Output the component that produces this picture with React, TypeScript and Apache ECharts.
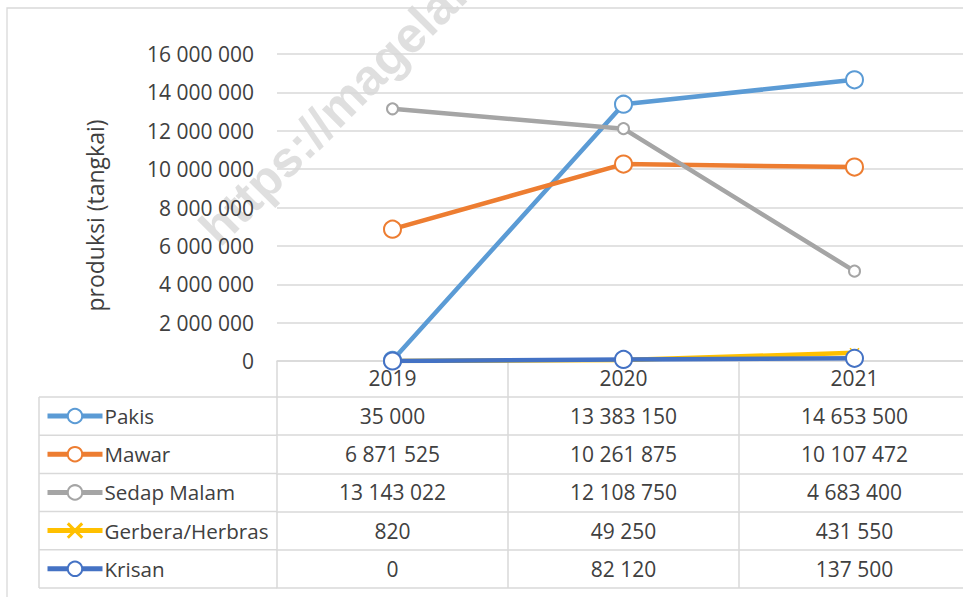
import React, { useEffect, useRef } from "react";
import * as echarts from "echarts";

const categories = ["2019", "2020", "2021"];
const seriesNames = ["Pakis", "Mawar", "Sedap Malam", "Gerbera/Herbras", "Krisan"];
const pakis = [35000, 13383150, 14653500];
const mawar = [6871525, 10261875, 10107472];
const sedapMalam = [13143022, 12108750, 4683400];
const gerbera = [820, 49250, 431550];
const krisan = [0, 82120, 137500];
const colors = ["#5B9BD5", "#ED7D31", "#A5A5A5", "#FFC000", "#4472C4"];
const yMin = 0;
const yMax = 16000000;
const yInterval = 2000000;
const yAxisTitle = "produksi (tangkai)";
const watermark = "https://magelangkab.bps.go.id";

const fmt = (v: number) => String(v).replace(/\B(?=(\d{3})+(?!\d))/g, " ");

const FONT = "'Open Sans', sans-serif";
const TXT = "#404040";
const GRID_C = "#d9d9d9";

export default function App() {
  const ref = useRef<HTMLDivElement>(null);
  useEffect(() => {
    if (!ref.current) return;
    const chart = echarts.init(ref.current, undefined, { renderer: "svg" });
    const rows = [pakis, mawar, sedapMalam, gerbera, krisan];
    const gridLeft = 277;
    const gridTop = 54;
    const gridH = 307;
    const headerH = 36;
    const rowH = 38.2;
    const axisBottom = gridTop + gridH;
    const tableTop = axisBottom + headerH;
    const tableLeft = 39;
    const lineStyle = { color: GRID_C, width: 1.5 };
    const labelBase = { fontSize: 21, lineHeight: 24, color: TXT, fontFamily: FONT };

    const xAxes: any[] = [
      {
        type: "category",
        data: categories,
        position: "bottom",
        axisLine: { show: true, lineStyle },
        axisTick: { show: true, length: headerH, interval: 0, lineStyle },
        axisLabel: { ...labelBase, margin: 5, interval: 0 },
        splitLine: { show: false },
      },
      ...rows.map((r, i) => ({
        type: "category",
        data: r.map(fmt),
        position: "bottom",
        offset: headerH + rowH * i,
        axisLine: { show: true, lineStyle },
        axisTick: { show: true, length: rowH, interval: 0, lineStyle },
        axisLabel: { ...labelBase, margin: 7, interval: 0 },
        splitLine: { show: false },
      })),
      {
        type: "category",
        data: categories,
        position: "bottom",
        offset: headerH + rowH * rows.length,
        axisLine: { show: true, lineStyle },
        axisTick: { show: false },
        axisLabel: { show: false },
      },
    ];

    const graphics: any[] = [
      {
        type: "text",
        x: 226,
        y: 254,
        rotation: Math.PI / 4,
        z: -10,
        style: {
          text: watermark,
          font: "bold 50px 'Liberation Sans', Arial, sans-serif",
          fill: "rgba(150,150,150,0.3)",
          textAlign: "left",
          textVerticalAlign: "bottom",
        },
      },
      {
        type: "rect",
        shape: { x: 7, y: 8, width: 2000, height: 2000 },
        style: { fill: "none", stroke: GRID_C, lineWidth: 1.3 },
        silent: true,
      },
      {
        type: "line",
        shape: { x1: tableLeft, y1: tableTop, x2: tableLeft, y2: tableTop + rowH * rows.length },
        style: { stroke: GRID_C, lineWidth: 1.5 },
      },
    ];
    for (let k = 0; k <= rows.length; k++) {
      graphics.push({
        type: "line",
        shape: { x1: tableLeft, y1: tableTop + rowH * k, x2: gridLeft, y2: tableTop + rowH * k },
        style: { stroke: GRID_C, lineWidth: 1.5 },
      });
    }

    const xSymbol = "path://M0,0L10,10M10,0L0,10";

    const series = rows.map((r, i) => {
      const isGerbera = i === 3;
      const isSedap = i === 2;
      return {
        name: seriesNames[i],
        type: "line",
        data: r,
        xAxisIndex: 0,
        symbol: isGerbera ? xSymbol : "emptyCircle",
        symbolSize: isGerbera ? 9 : isSedap ? 11 : 17,
        showAllSymbol: true,
        lineStyle: { color: colors[i], width: 4.5 },
        itemStyle: isGerbera
          ? { color: "rgba(0,0,0,0)", borderColor: colors[i], borderWidth: 1.5 }
          : { color: colors[i], borderColor: colors[i], borderWidth: isSedap ? 2.5 : 3 },
        z: 3 + i,
      };
    });

    chart.setOption({
      animation: false,
      backgroundColor: "#ffffff",
      textStyle: { fontFamily: FONT },
      grid: { left: gridLeft, top: gridTop, width: 693, height: gridH, containLabel: false },
      legend: {
        data: seriesNames,
        orient: "vertical",
        left: 45,
        top: tableTop + 7,
        padding: 0,
        itemWidth: 55,
        itemHeight: 18,
        itemGap: rowH - 24,
        selectedMode: false,
        lineStyle: { width: 5 },
        itemStyle: { borderWidth: 3 },
        textStyle: { fontSize: 20.6, lineHeight: 24, color: TXT, fontFamily: FONT, padding: [0, 0, 0, -3] },
      },
      xAxis: xAxes,
      yAxis: {
        type: "value",
        min: yMin,
        max: yMax,
        interval: yInterval,
        name: yAxisTitle,
        nameLocation: "middle",
        nameGap: 171,
        nameRotate: 90,
        nameTextStyle: { fontSize: 23, color: TXT, fontFamily: FONT, padding: [0, 16, 0, 0] },
        axisLine: { show: false },
        axisTick: { show: false },
        axisLabel: { fontSize: 21, color: TXT, fontFamily: FONT, margin: 23, formatter: (v: number) => fmt(v) },
        splitLine: { show: true, lineStyle },
      },
      graphic: graphics,
      series,
    });
    return () => chart.dispose();
  }, []);

  return (
    <div
      style={{
        position: "fixed",
        left: 0,
        top: 0,
        width: 963,
        height: 597,
        overflow: "hidden",
        background: "#fff",
      }}
    >
      <div ref={ref} style={{ width: 990, height: 620 }} />
    </div>
  );
}
